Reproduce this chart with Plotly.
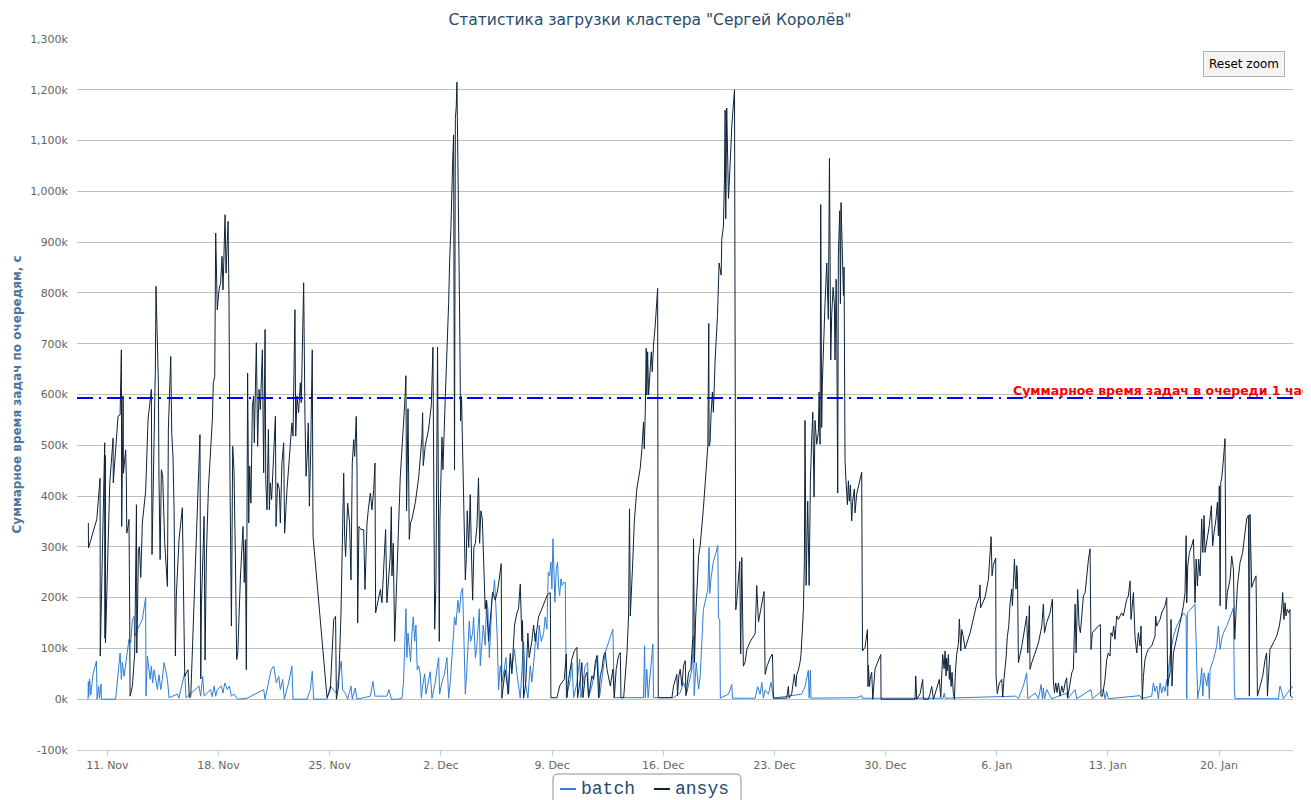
import pandas as pd
import plotly.graph_objects as go

title_text = 'Статистика загрузки кластера "Сергей Королёв"'
y_title = "Суммарное время задач по очередям, с"
plotline_label = "Суммарное время задач в очереди 1 час"
plotline_value = 593  # thousands of seconds
start_date = "2013-11-11"
view_days = [-1.914, 74.66]
series_names = ["batch", "ansys"]
series_colors = ["#2f7ed8", "#0d233a"]

tick_dates = ["2013-11-11", "2013-11-18", "2013-11-25", "2013-12-02", "2013-12-09",
              "2013-12-16", "2013-12-23", "2013-12-30", "2014-01-06", "2014-01-13", "2014-01-20"]
tick_labels = ["11. Nov", "18. Nov", "25. Nov", "2. Dec", "9. Dec", "16. Dec",
               "23. Dec", "30. Dec", "6. Jan", "13. Jan", "20. Jan"]
y_ticks = [-100, 0, 100, 200, 300, 400, 500, 600, 700, 800, 900, 1000, 1100, 1200, 1300]
y_tick_labels = ["-100k", "0k", "100k", "200k", "300k", "400k", "500k", "600k", "700k",
                 "800k", "900k", "1,000k", "1,100k", "1,200k", "1,300k"]

# (days since 11 Nov 2013, value in thousands of seconds)
batch_points = [
    (-1.22, 0), (-1.20, 35), (-1.18, 5), (-1.12, 40), (-1.05, 8), (-0.90, 50), (-0.69, 75), (-0.65, 0),
    (-0.55, 25), (-0.50, 2), (-0.40, 30), (-0.38, 0), (0.52, 0), (0.80, 91), (0.88, 39), (0.94, 72),
    (1.05, 45), (1.22, 85), (1.36, 118), (1.47, 111), (1.57, 157), (1.68, 163), (1.72, 124), (1.89, 137),
    (1.99, 144), (2.20, 157), (2.41, 200), (2.43, 6), (2.52, 85), (2.62, 58), (2.69, 39), (2.77, 65),
    (2.85, 32), (2.94, 58), (3.06, 39), (3.15, 19), (3.25, 48), (3.36, 19), (3.46, 39), (3.57, 72),
    (3.67, 58), (3.78, 39), (3.88, 3), (4.41, 10), (4.50, 2), (4.87, 52), (4.95, 3), (5.77, 26),
    (5.87, 6), (6.00, 45), (6.09, 6), (6.50, 19), (6.60, 5), (6.72, 26), (6.82, 6), (6.92, 19),
    (7.18, 26), (7.28, 12), (7.39, 32), (7.55, 19), (7.68, 26), (7.81, 6), (7.97, 10), (8.14, 3),
    (8.21, 0), (8.80, 2), (9.00, 5), (9.84, 19), (9.93, 0), (10.31, 58), (10.47, 65), (10.64, 32),
    (10.79, 45), (10.89, 19), (11.04, 39), (11.14, 0), (11.41, 32), (11.62, 65), (11.69, 0), (12.57, 0),
    (12.78, 19), (12.90, 55), (12.99, 0), (13.83, 0), (14.04, 26), (14.42, 12), (14.50, 32), (14.73, 75),
    (14.81, 19), (14.98, 12), (15.13, 0), (15.34, 26), (15.42, 0), (15.61, 22), (15.72, 0), (16.56, 6),
    (16.72, 35), (16.85, 6), (17.60, 6), (17.73, 19),
    (17.88, 0), (18.30, 0), (18.55, 2), (18.65, 34), (18.80, 178), (18.86, 82), (18.93, 130), (19.01, 98),
    (19.09, 74), (19.18, 130), (19.26, 162), (19.35, 114), (19.43, 146), (19.51, 58), (19.60, 66), (19.70, 50),
    (19.77, 2), (19.85, 26), (19.98, 50), (20.06, 10), (20.19, 34), (20.33, 54), (20.44, 2), (20.65, 34),
    (20.75, 58), (20.86, 82), (20.92, 10), (21.07, 34), (21.23, 50), (21.38, 82), (21.49, 2), (21.59, 34),
    (21.80, 130), (21.86, 162), (21.95, 146), (22.07, 195), (22.16, 170), (22.28, 211), (22.37, 219), (22.43, 154),
    (22.49, 82), (22.54, 10), (22.62, 50), (22.79, 154), (22.87, 114), (23.00, 130), (23.06, 162), (23.17, 82),
    (23.25, 98), (23.33, 130), (23.42, 178), (23.48, 66), (23.58, 114), (23.67, 146), (23.79, 106), (23.88, 195),
    (23.96, 178), (24.05, 82), (24.13, 130), (24.21, 195), (24.30, 211), (24.38, 235), (24.47, 178), (24.55, 122),
    (24.63, 18), (24.74, 66), (24.84, 34), (24.95, 50), (25.10, 82), (25.22, 10), (25.37, 82), (25.47, 58),
    (25.64, 98), (25.79, 50), (26.00, 2), (26.10, 50), (26.21, 114), (26.31, 34), (26.48, 2), (26.63, 66),
    (26.73, 34), (26.90, 90), (26.98, 130), (27.11, 98), (27.19, 146), (27.32, 114), (27.47, 130), (27.57, 162),
    (27.68, 138), (27.76, 250), (27.85, 243), (27.93, 270), (27.99, 217), (28.06, 316), (28.10, 257), (28.18, 191),
    (28.27, 257), (28.35, 270), (28.41, 224), (28.48, 204), (28.56, 237), (28.64, 224), (28.73, 230), (28.83, 230),
    (28.90, 3), (29.04, 20), (29.15, 39), (29.25, 72), (29.36, 3), (29.57, 33), (29.74, 79), (29.82, 3),
    (29.95, 33), (30.09, 66), (30.24, 72), (30.30, 3), (30.51, 26), (30.72, 59), (30.87, 86), (30.99, 3),
    (31.14, 39), (31.35, 92), (31.56, 112), (31.71, 125), (31.83, 138), (31.92, 3), (32.30, 3), (32.93, 3),
    (33.55, 3), (33.76, 3), (33.83, 105), (33.87, 3), (33.97, 59), (34.05, 3), (34.35, 109), (34.39, 3),
    (35.65, 3), (36.07, 13), (36.28, 33), (36.49, 13), (36.81, 59), (36.91, 125), (36.95, 7), (37.08, 72),
    (37.23, 20), (37.33, 46),
    (37.53, 176), (37.81, 216), (37.89, 299), (37.93, 208), (38.02, 240), (38.16, 271), (38.31, 287), (38.44, 303),
    (38.48, 160), (38.56, 156), (38.60, 2), (39.11, 10), (39.32, 29), (39.36, 2), (40.79, 2), (40.95, 25),
    (41.10, 10), (41.21, 33), (41.31, 2), (41.42, 18), (41.63, 10), (41.79, 33), (41.94, 2), (43.72, 10),
    (43.93, 25), (44.14, 57), (44.19, 2), (44.27, 57), (44.31, 2), (47.08, 2),
    (47.19, 3), (47.50, 7), (47.55, 2), (52.63, 2), (52.70, 12), (52.75, 2), (56.84, 5),
    (56.91, 5), (57.20, 6), (57.37, 1), (57.68, 26), (57.89, 52), (57.96, 1), (58.42, 12), (58.63, 1),
    (58.80, 29), (58.88, 1), (58.94, 22), (59.01, 1), (59.15, 19), (59.47, 1), (60.41, 12), (60.47, 1),
    (60.94, 19), (61.04, 1), (61.94, 19), (62.03, 1), (62.72, 19), (62.82, 1), (62.93, 15), (63.03, 1),
    (65.03, 7), (65.13, 1), (65.76, 6), (65.87, 32), (65.97, 15), (66.08, 26), (66.18, 1), (66.29, 32),
    (66.39, 12), (66.50, 26), (66.60, 15),
    (66.71, 39), (66.77, 6), (66.81, 59), (66.92, 85), (67.02, 105), (67.13, 124), (67.34, 144), (67.55, 157),
    (67.76, 170), (67.93, 164), (67.97, 1), (68.01, 170), (68.49, 187), (68.66, 1), (68.70, 12), (68.81, 26),
    (68.91, 62), (68.98, 6), (69.06, 52), (69.23, 26), (69.33, 52), (69.39, 1), (69.44, 59), (69.65, 78),
    (69.86, 105), (69.96, 144), (70.02, 124), (70.07, 98), (70.17, 118), (70.28, 131), (70.49, 144), (70.70, 164),
    (70.91, 180), (70.97, 19), (71.01, 1), (73.74, 1), (73.84, 26), (73.95, 15), (74.05, 1), (74.64, 26),
]

ansys_points = [
    (-1.20, 347), (-1.19, 298), (-0.67, 354), (-0.46, 435), (-0.45, 85), (-0.30, 330), (-0.17, 505), (-0.15, 120),
    (-0.13, 480), (-0.12, 111), (0.15, 426), (0.36, 514), (0.37, 426), (0.46, 472), (0.67, 557), (0.80, 560),
    (0.85, 620), (0.88, 688), (0.90, 340), (0.99, 597), (1.01, 445), (1.15, 491), (1.19, 440), (1.22, 327),
    (1.30, 340), (1.36, 354), (1.40, 183), (1.43, 6), (1.57, 25), (1.72, 91), (1.83, 383), (1.85, 91),
    (1.93, 240), (1.95, 295), (2.02, 300), (2.10, 240), (2.20, 347), (2.31, 386), (2.41, 410), (2.56, 551),
    (2.69, 597), (2.77, 610), (2.81, 285), (2.94, 478), (3.02, 650), (3.06, 813), (3.15, 662), (3.21, 623),
    (3.25, 432), (3.32, 275), (3.40, 452), (3.48, 440), (3.61, 308), (3.78, 222), (3.84, 531), (3.99, 675),
    (4.05, 525), (4.13, 478), (4.20, 373), (4.28, 85), (4.34, 203), (4.51, 314), (4.72, 377), (4.78, 190),
    (4.87, 45), (4.97, 52), (5.08, 58), (5.16, 3), (5.25, 5), (5.83, 521), (5.88, 40), (5.92, 183),
    (6.09, 360), (6.15, 77), (6.23, 280), (6.36, 413), (6.46, 478), (6.61, 551), (6.67, 623), (6.76, 636),
    (6.82, 918), (6.92, 767), (7.03, 806), (7.13, 820), (7.22, 872), (7.28, 806), (7.41, 954), (7.47, 839),
    (7.60, 941), (7.66, 780), (7.72, 432), (7.81, 144), (7.89, 498), (7.97, 452), (8.06, 281), (8.14, 78),
    (8.21, 91), (8.37, 235), (8.54, 340), (8.62, 230), (8.69, 314), (8.75, 58), (8.83, 642), (8.90, 347),
    (8.96, 459), (9.04, 386), (9.13, 577), (9.21, 597), (9.25, 505), (9.38, 702), (9.46, 498), (9.55, 610),
    (9.63, 570), (9.76, 688), (9.84, 446), (9.93, 728), (9.97, 432), (10.05, 373), (10.14, 531), (10.20, 373),
    (10.26, 426), (10.34, 393), (10.58, 557), (10.62, 340), (10.72, 426), (10.83, 413), (10.89, 347), (10.99, 465),
    (11.10, 505), (11.16, 327), (11.31, 413), (11.48, 478), (11.62, 544), (11.69, 518), (11.81, 767), (11.86, 518),
    (11.94, 597), (12.04, 564), (12.15, 623), (12.21, 584), (12.36, 820), (12.44, 557), (12.51, 439), (12.59, 485),
    (12.65, 544), (12.72, 380), (12.80, 485), (12.90, 688), (12.95, 321), (13.83, 3), (14.04, 19), (14.25, 157),
    (14.37, 163), (14.42, 0), (14.56, 26), (14.71, 170), (14.79, 281), (14.88, 445), (14.94, 321), (15.00, 281),
    (15.13, 386), (15.25, 347), (15.34, 235), (15.42, 465), (15.51, 511), (15.57, 478), (15.67, 557), (15.72, 452),
    (15.76, 150), (15.84, 340), (15.97, 334), (16.14, 334), (16.22, 216), (16.35, 347), (16.43, 373), (16.56, 406),
    (16.66, 373), (16.77, 413), (16.85, 465), (16.89, 170), (17.02, 190), (17.19, 216), (17.29, 190), (17.44, 288),
    (17.52, 334), (17.60, 190), (17.73, 242), (17.81, 281),
    (17.88, 379), (17.92, 243), (18.00, 307), (18.09, 114), (18.44, 436), (18.59, 508), (18.72, 580), (18.80, 637),
    (18.84, 371), (18.93, 572), (18.97, 468), (19.01, 315), (19.09, 347), (19.18, 355), (19.39, 387), (19.60, 436),
    (19.81, 516), (19.85, 564), (19.89, 460), (20.02, 500), (20.23, 532), (20.40, 580), (20.50, 693), (20.56, 195),
    (20.61, 138), (20.69, 227), (20.79, 693), (20.90, 114), (20.94, 355), (21.07, 516), (21.13, 452), (21.28, 596),
    (21.40, 693), (21.49, 781), (21.55, 862), (21.63, 926), (21.74, 1055), (21.80, 1111), (21.86, 452), (21.91, 1143),
    (21.97, 1167), (22.01, 1215), (22.07, 1063), (22.12, 966), (22.16, 814), (22.20, 693), (22.24, 548), (22.30, 596),
    (22.39, 468), (22.45, 412), (22.54, 235), (22.60, 275), (22.66, 371), (22.75, 299), (22.85, 403), (22.91, 307),
    (23.00, 195), (23.08, 299), (23.17, 307), (23.27, 339), (23.37, 436), (23.44, 307), (23.52, 371), (23.61, 355),
    (23.69, 267), (23.79, 178), (23.86, 195), (24.00, 114), (24.17, 178), (24.26, 211), (24.42, 195), (24.55, 211),
    (24.63, 227), (24.80, 267), (24.84, 2), (24.95, 34), (25.05, 58), (25.26, 10), (25.37, 90), (25.47, 50),
    (25.64, 146), (25.79, 170), (25.89, 178), (26.00, 227), (26.10, 114), (26.14, 155), (26.21, 2), (26.35, 34),
    (26.48, 130), (26.56, 82), (26.73, 114), (26.84, 146), (26.94, 114), (27.05, 138), (27.15, 162), (27.36, 178),
    (27.57, 195),
    (27.70, 205), (27.89, 210), (27.93, 3), (28.31, 3), (28.48, 26), (28.62, 33), (28.77, 39), (28.90, 89),
    (28.94, 3), (29.04, 39), (29.25, 79), (29.40, 95), (29.57, 102), (29.61, 3), (29.78, 39), (29.88, 72),
    (29.95, 3), (30.09, 46), (30.20, 53), (30.30, 3), (30.51, 46), (30.62, 39), (30.72, 72), (30.83, 86),
    (30.93, 3), (31.04, 46), (31.14, 59), (31.25, 86), (31.35, 92), (31.46, 59), (31.67, 26), (31.83, 59),
    (31.92, 3), (32.04, 59), (32.19, 86), (32.30, 92), (32.34, 3), (32.51, 3), (32.72, 92), (32.82, 164),
    (32.88, 375), (32.93, 164), (33.03, 257), (33.09, 276), (33.18, 349), (33.34, 414), (33.55, 454), (33.66, 493),
    (33.76, 546), (33.81, 493), (33.87, 566), (33.93, 691), (33.97, 599), (34.02, 684), (34.08, 599), (34.18, 651),
    (34.25, 684), (34.31, 645), (34.39, 697), (34.50, 737), (34.65, 809), (34.69, 3), (35.55, 3), (35.65, 26),
    (35.86, 49), (35.90, 7), (35.99, 46), (36.07, 59), (36.18, 26), (36.28, 66), (36.39, 76), (36.43, 7),
    (36.60, 53), (36.74, 59), (36.87, 125), (36.91, 316), (36.97, 72), (37.04, 158), (37.12, 217), (37.23, 283),
    (37.33, 303),
    (37.53, 375), (37.81, 498), (37.87, 740), (37.89, 498), (37.95, 505), (38.02, 565), (38.10, 605), (38.16, 565),
    (38.27, 668), (38.42, 756), (38.52, 859), (38.65, 835), (38.69, 906), (38.79, 930), (38.86, 1025), (38.90, 1160),
    (38.94, 946), (39.00, 1164), (39.05, 1097), (39.11, 986), (39.21, 1049), (39.32, 1129), (39.49, 1200), (39.53, 184),
    (39.57, 176), (39.63, 192), (39.74, 240), (39.82, 271), (39.88, 89), (39.95, 279), (40.05, 65), (40.16, 73),
    (40.26, 97), (40.47, 113), (40.79, 129), (40.89, 224), (41.00, 152), (41.10, 168), (41.21, 192), (41.35, 212),
    (41.42, 49), (41.54, 65), (41.73, 81), (41.88, 89), (41.94, 2), (42.47, 2), (42.78, 2), (42.88, 25),
    (42.93, 2), (43.09, 10), (43.26, 49), (43.35, 25), (43.41, 49), (43.51, 57), (43.62, 73), (43.68, 89),
    (43.72, 113), (43.77, 168), (43.83, 176), (43.89, 271), (43.93, 549), (44.00, 224), (44.10, 390), (44.19, 224),
    (44.27, 430), (44.35, 510), (44.42, 565), (44.50, 398), (44.56, 549), (44.67, 502), (44.77, 525), (44.82, 605),
    (44.88, 502), (44.92, 974), (44.98, 535), (45.02, 621), (45.11, 716), (45.19, 779), (45.30, 859), (45.36, 779),
    (45.40, 748), (45.47, 1065), (45.55, 668), (45.61, 756), (45.70, 811), (45.78, 779), (45.82, 668), (45.89, 827),
    (45.93, 716), (45.99, 406), (46.03, 875), (46.12, 962), (46.16, 779), (46.20, 978), (46.24, 930), (46.28, 843),
    (46.35, 795), (46.39, 851), (46.45, 470), (46.51, 430), (46.60, 383), (46.66, 430), (46.72, 390), (46.79, 422),
    (46.87, 351), (46.93, 390), (47.04, 414), (47.08, 367),
    (47.19, 405), (47.50, 447), (47.55, 95), (47.71, 102), (47.86, 137), (47.90, 25), (47.92, 67), (47.99, 25),
    (48.03, 39), (48.13, 53), (48.20, 0), (48.34, 60), (48.70, 88), (48.72, 0), (50.86, 0), (50.90, 46),
    (50.97, 0), (51.18, 11), (51.34, 39), (51.39, 0), (51.70, 0), (51.81, 11), (51.91, 25), (52.02, 0),
    (52.18, 18), (52.39, 39), (52.48, 4), (52.60, 88), (52.69, 60), (52.75, 95), (52.81, 46), (52.85, 81),
    (52.90, 56), (52.96, 88), (53.02, 39), (53.06, 67), (53.13, 25), (53.19, 53), (53.27, 11), (53.34, 0),
    (53.40, 53), (53.48, 88), (53.59, 109), (53.65, 158), (53.74, 95), (53.80, 137), (53.90, 123), (54.01, 99),
    (54.11, 109), (54.32, 130), (54.53, 158), (54.74, 187), (54.91, 201), (54.95, 225), (54.99, 180), (55.27, 201),
    (55.48, 236), (55.58, 278), (55.65, 320), (55.71, 243), (55.79, 264), (55.94, 278), (55.96, 46), (56.04, 11),
    (56.17, 32), (56.32, 39), (56.38, 4), (56.46, 39), (56.59, 81), (56.67, 123), (56.76, 144), (56.84, 187),
    (56.91, 210), (56.95, 217), (56.99, 184), (57.05, 230), (57.12, 276), (57.16, 243), (57.22, 217), (57.26, 263),
    (57.31, 243), (57.33, 190), (57.37, 72), (57.41, 78), (57.58, 104), (57.79, 144), (57.89, 164), (57.96, 91),
    (58.00, 157), (58.06, 184), (58.10, 59), (58.21, 72), (58.42, 91), (58.63, 111), (58.84, 144), (58.94, 187),
    (59.01, 131), (59.15, 151), (59.36, 170), (59.51, 197), (59.57, 36), (59.64, 13), (59.72, 32), (59.80, 13),
    (59.89, 32), (59.99, 6), (60.10, 26), (60.20, 13), (60.31, 32), (60.41, 42), (60.47, 3), (60.62, 32),
    (60.73, 52), (60.83, 59), (60.94, 187), (61.00, 91), (61.04, 170), (61.10, 216), (61.19, 144), (61.27, 131),
    (61.36, 164), (61.46, 203), (61.57, 210), (61.67, 250), (61.78, 276), (61.88, 296), (61.94, 98), (62.03, 131),
    (62.20, 138), (62.40, 144), (62.53, 147), (62.57, 6), (62.66, 6), (62.82, 39), (62.93, 78), (63.03, 91),
    (63.14, 85), (63.20, 131), (63.29, 124), (63.37, 144), (63.45, 118), (63.56, 164), (63.66, 157), (63.77, 164),
    (63.87, 170), (63.98, 164), (64.08, 184), (64.19, 197), (64.29, 203), (64.40, 233), (64.46, 157), (64.55, 184),
    (64.61, 210), (64.71, 124), (64.82, 91), (64.92, 131), (65.03, 105), (65.09, 144), (65.13, 39), (65.17, 0),
    (65.24, 45), (65.34, 78), (65.45, 91), (65.55, 98), (65.76, 105), (65.97, 124), (66.01, 164), (66.08, 144),
    (66.18, 151), (66.29, 157), (66.39, 170), (66.50, 177), (66.60, 184),
    (66.71, 200), (66.77, 26), (66.83, 39), (66.92, 52), (66.98, 157), (67.04, 26), (67.13, 91), (67.34, 118),
    (67.55, 151), (67.76, 184), (67.86, 210), (67.93, 322), (67.97, 190), (68.03, 263), (68.14, 289), (68.28, 302),
    (68.39, 315), (68.49, 190), (68.56, 276), (68.64, 223), (68.72, 276), (68.81, 243), (68.91, 355), (68.98, 289),
    (69.06, 362), (69.12, 289), (69.23, 309), (69.39, 342), (69.52, 381), (69.60, 302), (69.69, 328), (69.81, 355),
    (69.90, 388), (69.96, 322), (70.02, 420), (70.07, 184), (70.11, 427), (70.17, 434), (70.28, 473), (70.38, 513),
    (70.44, 177), (70.53, 210), (70.70, 237), (70.80, 282), (70.91, 256), (70.99, 118), (71.07, 170), (71.16, 223),
    (71.33, 270), (71.49, 289), (71.64, 328), (71.74, 355), (71.85, 362), (71.91, 6), (71.95, 364), (72.06, 220),
    (72.16, 230), (72.33, 243), (72.42, 6), (72.58, 26), (72.75, 45), (72.90, 78), (73.00, 91), (73.05, 6),
    (73.21, 98), (73.42, 111), (73.63, 124), (73.80, 144), (73.95, 177), (74.01, 210), (74.09, 157), (74.16, 190),
    (74.22, 164), (74.30, 177), (74.39, 170), (74.47, 177), (74.51, 6), (74.64, 3),
]

base = pd.Timestamp(start_date)


def to_dates(days):
    return base + pd.to_timedelta(list(days), unit="D")


# Layout geometry (figure sits 8px inside the page because of the default body margin)
FIG_W, FIG_H = 1303, 792
M_L, M_R, M_T, M_B = 69, 18, 31, 50
PLOT_W = FIG_W - M_L - M_R
PLOT_H = FIG_H - M_T - M_B
PAGE_OFF = 8


def px(xp):  # page x pixel -> paper x
    return (xp - PAGE_OFF - M_L) / PLOT_W


def py(yp):  # page y pixel -> paper y
    return (FIG_H - M_B - (yp - PAGE_OFF)) / PLOT_H


fig = go.Figure()
for name, pts, color in [("batch", batch_points, series_colors[0]),
                         ("ansys", ansys_points, series_colors[1])]:
    pts = sorted(pts)
    d, v = zip(*pts)
    fig.add_trace(go.Scatter(x=to_dates(d), y=list(v), mode="lines", name=name,
                             line=dict(color=color, width=1), showlegend=False))

# plot line
fig.add_shape(type="line", xref="paper", yref="y", x0=0, x1=1, y0=plotline_value, y1=plotline_value,
              line=dict(color="#0000ff", width=2, dash="16px,6px,2px,6px"), layer="above")
fig.add_annotation(text=plotline_label, xref="paper", yref="y", x=px(1011), y=plotline_value,
                   xanchor="left", yanchor="bottom", yshift=-2, showarrow=False,
                   font=dict(family="DejaVu Sans", size=12.5, color="#ff0000", weight="bold"))

# y axis title
fig.add_annotation(text=y_title, xref="paper", yref="paper", x=px(16), y=0.5, textangle=-90,
                   xanchor="center", yanchor="middle", showarrow=False,
                   font=dict(family="DejaVu Sans", size=12, color="#4d759e", weight="bold"))

# reset zoom button
fig.add_annotation(text="Reset zoom", xref="paper", yref="paper", x=px(1243.5), y=py(64),
                   xanchor="center", yanchor="middle", showarrow=False, bgcolor="#f4f4f4",
                   bordercolor="#b2b2b2", borderwidth=1, borderpad=5,
                   font=dict(family="DejaVu Sans", size=12, color="#000000"))

# legend (drawn by hand so that it sits at the very bottom like the original)
bx0, bx1, by0, by1, r = 553, 741, 774, 808, 5
rx, ry = r / PLOT_W, r / PLOT_H
X0, X1, Y0, Y1 = px(bx0), px(bx1), py(by0), py(by1)
legend_path = (f"M{X0 + rx},{Y0} L{X1 - rx},{Y0} Q{X1},{Y0} {X1},{Y0 - ry} "
               f"L{X1},{Y1 + ry} Q{X1},{Y1} {X1 - rx},{Y1} L{X0 + rx},{Y1} "
               f"Q{X0},{Y1} {X0},{Y1 + ry} L{X0},{Y0 - ry} Q{X0},{Y0} {X0 + rx},{Y0} Z")
fig.add_shape(type="path", xref="paper", yref="paper", path=legend_path,
              line=dict(color="#909090", width=1), fillcolor="#ffffff", layer="above")
legend_y = py(789)
for name, color, sx in zip(series_names, series_colors, [560, 654]):
    fig.add_shape(type="line", xref="paper", yref="paper", x0=px(sx), x1=px(sx + 16),
                  y0=legend_y, y1=legend_y, line=dict(color=color, width=2), layer="above")
    fig.add_annotation(text=name, xref="paper", yref="paper", x=px(sx + 19), y=legend_y,
                       xanchor="left", yanchor="middle", showarrow=False,
                       font=dict(family="Liberation Mono", size=18, color="#274b6d"))

fig.update_layout(
    width=FIG_W, height=FIG_H,
    margin=dict(l=M_L, r=M_R, t=M_T, b=M_B, autoexpand=False),
    paper_bgcolor="#ffffff", plot_bgcolor="#ffffff",
    title=dict(text=title_text, x=(650 - PAGE_OFF) / FIG_W, xanchor="center",
               y=1 - (20 - PAGE_OFF) / FIG_H, yanchor="middle",
               font=dict(family="DejaVu Sans", size=15.5, color="#274b6d")),
    showlegend=False,
    xaxis=dict(type="date", range=list(to_dates(view_days)), tickmode="array",
               tickvals=tick_dates, ticktext=tick_labels, showgrid=False, showline=True,
               linecolor="#c0d0e0", linewidth=1, ticks="outside", ticklen=5, tickcolor="#c0d0e0",
               tickfont=dict(family="DejaVu Sans", size=11, color="#666666"), zeroline=False),
    yaxis=dict(range=[-100, 1300], tickmode="array", tickvals=y_ticks, ticktext=y_tick_labels,
               showgrid=True, gridcolor="#c0c0c0", gridwidth=1, zeroline=False, showline=False,
               ticks="", tickfont=dict(family="DejaVu Sans", size=11, color="#666666"),
               ticklabelstandoff=8),
    hovermode="closest",
)

fig.write_html("out.html")
